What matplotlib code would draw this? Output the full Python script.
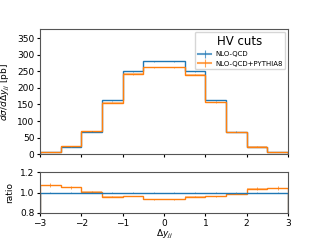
import matplotlib
matplotlib.use("Agg")
import matplotlib.pyplot as plt
from matplotlib.lines import Line2D
import numpy as np

edges = np.linspace(-3, 3, 13)
nlo = [5, 22, 68, 162, 250, 280, 280, 250, 162, 68, 22, 5]
ratio = [1.07, 1.05, 1.01, 0.96, 0.965, 0.935, 0.935, 0.96, 0.965, 0.99, 1.04, 1.045]
ratio_err = [0.02, 0.01, 0.005, 0.004, 0.003, 0.003, 0.003, 0.003, 0.004, 0.005, 0.01, 0.02]

nlo = np.array(nlo, dtype=float)
ratio = np.array(ratio)
ratio_err = np.array(ratio_err)
py8 = nlo * ratio
centers = 0.5 * (edges[1:] + edges[:-1])

plt.rcParams["font.size"] = 6.5

fig = plt.figure(figsize=(3.2, 2.4), dpi=100)
ax = fig.add_axes([0.125, 0.358, 0.775, 0.521])
axr = fig.add_axes([0.125, 0.1125, 0.775, 0.17], sharex=ax)

# main panel
ax.stairs(nlo, edges, color="C0", lw=1)
ax.stairs(py8 * 1.01, edges, baseline=py8 * 0.99, fill=True, color="C1", alpha=0.45, lw=0)
ax.stairs(py8, edges, color="C1", lw=1)
ax.errorbar(centers, nlo, yerr=nlo * 0.01, fmt="none", color="C0", lw=0.6, alpha=0.7)
ax.errorbar(centers, py8, yerr=py8 * ratio_err, fmt="none", color="C1", lw=0.6, alpha=0.7)
ax.set_ylim(0, 378)
ax.set_xlim(-3, 3)
ax.set_yticks(np.arange(0, 351, 50))
ax.set_ylabel(r"$d\sigma/d\Delta y_{jj}$ [pb]")
ax.tick_params(labelbottom=False, length=2.5, pad=1.5)
handles = [
    Line2D([], [], color="C0", lw=1.5, alpha=0.7, marker="|", markersize=6, markeredgewidth=0.8),
    Line2D([], [], color="C1", lw=1.5, alpha=0.7, marker="|", markersize=6, markeredgewidth=0.8),
]
ax.legend(handles, ["NLO-QCD", "NLO-QCD+PYTHIA8"], title="HV cuts", title_fontsize=8.5,
          fontsize=5, loc="upper right", handlelength=2.0, handletextpad=0.5, borderaxespad=0.4)

# ratio panel
ones = np.ones_like(ratio)
axr.stairs(ratio + 0.005, edges, baseline=ratio - 0.005, fill=True, color="C1", alpha=0.45, lw=0)
axr.stairs(ratio, edges, color="C1", lw=1)
axr.errorbar(centers, ratio, yerr=ratio_err, fmt="none", color="C1", lw=0.6, alpha=0.8)
axr.stairs(ones, edges, color="C0", lw=1)
axr.errorbar(centers, ones, yerr=0.008, fmt="none", color="C0", lw=0.6, alpha=0.6)
axr.set_ylim(0.8, 1.2)
axr.set_yticks([0.8, 1.0, 1.2])
axr.set_ylabel("ratio")
axr.set_xlabel(r"$\Delta y_{jj}$", labelpad=0)
axr.tick_params(length=2.5, pad=1.5)

for a in (ax, axr):
    for s in a.spines.values():
        s.set_color("#555555")

fig.savefig("out.png", dpi=100)
